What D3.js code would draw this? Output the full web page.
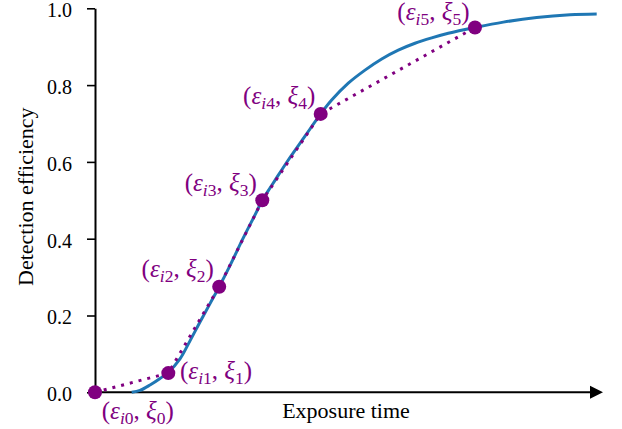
<!DOCTYPE html>
<html>
<head>
<meta charset="utf-8">
<script src="https://cdn.jsdelivr.net/npm/d3@7"></script>
<style>
  html, body { margin: 0; padding: 0; background: #fff; }
  svg { display: block; }
  text { font-family: "Liberation Serif", "Times New Roman", serif; }
</style>
</head>
<body>
<svg id="chart" width="622" height="429"></svg>
<script>
// ---- data ----
// Sampled calibration points (exposure, efficiency)
const pointX = [0, 1.443, 2.445, 3.293, 4.443, 7.48];
const pointY = [0, 0.05, 0.275, 0.50, 0.725, 0.95];
const pointIndex = [0, 1, 2, 3, 4, 5];

// Smooth detection-efficiency curve
const curveX = [0.722, 0.886, 1.083, 1.280, 1.443, 1.673, 1.870, 2.067, 2.264, 2.445, 2.657, 2.919,
                3.150, 3.293, 3.445, 3.543, 3.805, 4.134, 4.443, 4.659, 4.986, 5.315, 5.644, 5.970,
                6.299, 6.628, 6.955, 7.480, 8.037, 8.695, 9.350, 9.876];
const curveY = [0.000, 0.005, 0.019, 0.036, 0.052, 0.087, 0.134, 0.183, 0.231, 0.275, 0.330, 0.402,
                0.462, 0.500, 0.532, 0.552, 0.605, 0.667, 0.725, 0.761, 0.805, 0.839, 0.868, 0.891,
                0.909, 0.923, 0.935, 0.950, 0.964, 0.976, 0.983, 0.985];

const yTicks = [0.0, 0.2, 0.4, 0.6, 0.8, 1.0];
const xLabel = "Exposure time";
const yLabel = "Detection efficiency";

// ---- layout ----
const svg = d3.select("#chart");
const mLeft = 95, mRight = 603, mTop = 8.3, mBottom = 392.3;
const x = d3.scaleLinear().domain([0, 10]).range([mLeft, mRight]);
const y = d3.scaleLinear().domain([0, 1]).range([mBottom, mTop]);

const purple = "#800080";
const blue = "#1f77b4";

// y axis
const yAxis = d3.axisLeft(y)
  .tickValues(yTicks)
  .tickFormat(d3.format(".1f"))
  .tickSize(8)
  .tickSizeOuter(0)
  .tickPadding(15);
const gy = svg.append("g").attr("transform", `translate(${mLeft},0)`).call(yAxis);
gy.select(".domain").attr("stroke", "#000").attr("stroke-width", 2);
gy.selectAll(".tick line").attr("stroke", "#000").attr("stroke-width", 1.6);
gy.selectAll(".tick text")
  .attr("font-family", "Liberation Serif, Times New Roman, serif")
  .attr("font-size", 20)
  .attr("dy", "0.42em")
  .attr("fill", "#000");

// x axis with arrow
const arrowLen = 13, arrowHalf = 6.5;
svg.append("line")
  .attr("x1", x(0) - 1).attr("x2", x.range()[1] - arrowLen + 1)
  .attr("y1", y(0)).attr("y2", y(0))
  .attr("stroke", "#000").attr("stroke-width", 2);
const xe = x.range()[1];
svg.append("path")
  .attr("d", `M${xe},${y(0)} L${xe - arrowLen},${y(0) - arrowHalf} L${xe - arrowLen},${y(0) + arrowHalf} Z`)
  .attr("fill", "#000");

// axis labels
svg.append("text")
  .attr("x", (mLeft + mRight) / 2 - 3).attr("y", 417.5)
  .attr("text-anchor", "middle")
  .attr("font-size", 22)
  .text(xLabel);
svg.append("text")
  .attr("transform", `translate(33,${196.7}) rotate(-90)`)
  .attr("text-anchor", "middle")
  .attr("font-size", 22)
  .text(yLabel);

// blue curve
const curveData = curveX.map((v, i) => [v, curveY[i]]);
svg.append("path")
  .datum(curveData)
  .attr("fill", "none")
  .attr("stroke", blue)
  .attr("stroke-width", 3)
  .attr("d", d3.line().x(d => x(d[0])).y(d => y(d[1])).curve(d3.curveCatmullRom.alpha(0.5)));

// dotted piecewise-linear line
const ptData = pointX.map((v, i) => ({ x: v, y: pointY[i], k: pointIndex[i] }));
svg.append("path")
  .datum(ptData)
  .attr("fill", "none")
  .attr("stroke", purple)
  .attr("stroke-width", 3)
  .attr("stroke-dasharray", "3,6")
  .attr("d", d3.line().x(d => x(d.x)).y(d => y(d.y)));

// points
svg.selectAll("circle.pt")
  .data(ptData)
  .enter().append("circle")
  .attr("class", "pt")
  .attr("cx", d => x(d.x)).attr("cy", d => y(d.y))
  .attr("r", 7)
  .attr("fill", purple);

// labels (ε_{ik}, ξ_k)
function placement(k) {
  if (k === 0) return { dx: 6.7, dy: 26.7, anchor: "start" };
  if (k === 1) return { dx: 11.7, dy: 5.7, anchor: "start" };
  if (k === 5) return { dx: -5.5, dy: -7.5, anchor: "end" };
  return { dx: -5.5, dy: -9.7, anchor: "end" };
}
const mainSize = 25, subSize = 17.5, subDrop = 5;
ptData.forEach(d => {
  const p = placement(d.k);
  const t = svg.append("text")
    .attr("x", x(d.x) + p.dx)
    .attr("y", y(d.y) + p.dy)
    .attr("text-anchor", p.anchor)
    .attr("font-size", mainSize)
    .attr("fill", purple);
  t.append("tspan").text("(");
  t.append("tspan").attr("font-style", "italic").text("ε");
  t.append("tspan").attr("font-style", "italic").attr("font-size", subSize).attr("dy", subDrop).text("i");
  t.append("tspan").attr("font-size", subSize).text(String(d.k));
  t.append("tspan").attr("dy", -subDrop).text(", ");
  t.append("tspan").attr("font-style", "italic").text("ξ");
  t.append("tspan").attr("font-size", subSize).attr("dy", subDrop).text(String(d.k));
  t.append("tspan").attr("dy", -subDrop).text(")");
});
</script>
</body>
</html>
